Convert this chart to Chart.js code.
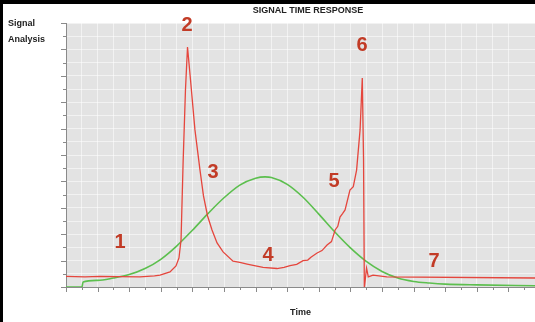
<!DOCTYPE html>
<html>
<head>
<meta charset="utf-8">
<script src="https://cdn.jsdelivr.net/npm/chart.js@4"></script>
<style>
  html, body { margin: 0; padding: 0; background: #000; overflow: hidden; }
  #wrap { position: absolute; left: 3px; top: 4px; width: 532px; height: 318px; background: #fff; }
</style>
</head>
<body>
<div id="wrap"><canvas id="signalChart" width="532" height="318"></canvas></div>
<script>
// red trace: signal
const redX = [0, 1.2, 2.15, 3.3, 4.68, 5.6, 5.95, 6.58, 6.96, 7.15, 7.28, 7.41, 7.56, 7.69, 7.88, 8.16, 8.48, 8.70, 8.96, 9.24, 9.56, 9.94, 10.57, 11.0, 11.46, 12.0, 12.47, 13.35, 13.8, 14.18, 14.6, 15.0, 15.3, 15.5, 15.89, 16.2, 16.52, 16.8, 17.03, 17.2, 17.34, 17.5, 17.66, 17.97, 18.18, 18.39, 18.61, 18.75, 18.83, 18.88, 19.02, 19.13, 19.43, 20.3, 29.68];
const redY = [0.40, 0.38, 0.40, 0.39, 0.38, 0.42, 0.45, 0.57, 0.80, 1.10, 1.78, 4.70, 7.46, 9.09, 7.84, 5.95, 4.43, 3.45, 2.69, 2.16, 1.67, 1.33, 0.98, 0.93, 0.87, 0.80, 0.74, 0.70, 0.74, 0.81, 0.86, 1.00, 1.02, 1.13, 1.29, 1.38, 1.59, 1.72, 2.16, 2.30, 2.65, 2.78, 2.92, 3.67, 3.80, 4.43, 5.95, 7.92, 4.81, -0.04, 0.72, 0.38, 0.45, 0.38, 0.34];
// green trace: reference response
const greenX = [0, 1.01, 1.08, 2, 3, 4, 5, 6, 7, 8, 9, 10, 11, 12, 12.6, 13, 14, 15, 16, 17, 18, 19, 20, 21, 22, 23, 24, 26, 29.68];
const greenY = [0, 0, 0.19, 0.25, 0.34, 0.47, 0.70, 1.05, 1.55, 2.15, 2.79, 3.38, 3.86, 4.12, 4.17, 4.15, 3.89, 3.40, 2.76, 2.09, 1.48, 0.97, 0.59, 0.34, 0.21, 0.15, 0.11, 0.08, 0.05];
// numbered markers
const markText = ['1', '2', '3', '4', '5', '6', '7'];
const markX = [3.42, 7.66, 9.30, 12.78, 16.96, 18.73, 23.29];
const markY = [1.70, 9.89, 4.32, 1.21, 4.01, 9.13, 0.95];

const xMax = 29.68;
const yMax = 10;

const toPoints = (xs, ys) => xs.map((x, i) => ({ x: x, y: ys[i] }));

const decorations = {
    id: 'decorations',
    beforeDraw(chart) {
        const { ctx, chartArea } = chart;
        ctx.save();
        ctx.fillStyle = '#e3e3e3';
        ctx.fillRect(chartArea.left, chartArea.top, chartArea.right - chartArea.left, chartArea.bottom - chartArea.top);
        ctx.restore();
    },
    afterDraw(chart) {
        const { ctx, chartArea, scales } = chart;
        ctx.save();
        // tick marks outside the axes
        ctx.strokeStyle = '#8a8a8a';
        ctx.lineWidth = 1;
        for (let i = 0; i <= Math.floor(xMax); i++) {
            const px = Math.round(scales.x.getPixelForValue(i)) + 0.5;
            const len = i % 2 === 0 ? 5 : 3;
            ctx.beginPath();
            ctx.moveTo(px, chartArea.bottom);
            ctx.lineTo(px, chartArea.bottom + len);
            ctx.stroke();
        }
        for (let j = 0; j <= yMax * 2; j++) {
            const py = Math.round(scales.y.getPixelForValue(j / 2)) + 0.5;
            const len = j % 2 === 0 ? 5 : 3;
            ctx.beginPath();
            ctx.moveTo(chartArea.left, py);
            ctx.lineTo(chartArea.left - len, py);
            ctx.stroke();
        }
        // header texts
        ctx.fillStyle = '#222';
        ctx.font = 'bold 9px "Liberation Sans", Arial, sans-serif';
        ctx.textBaseline = 'middle';
        ctx.textAlign = 'left';
        ctx.fillText('Signal', 5, 20);
        ctx.fillText('Analysis', 5, 36);
        ctx.textAlign = 'center';
        ctx.fillText('SIGNAL TIME RESPONSE', 305, 7);
        // numbered markers
        ctx.fillStyle = '#c23b26';
        ctx.font = 'bold 20px "Liberation Sans", Arial, sans-serif';
        markText.forEach((t, i) => {
            ctx.fillText(t, scales.x.getPixelForValue(markX[i]), scales.y.getPixelForValue(markY[i]));
        });
        ctx.restore();
    }
};

const chart = new Chart(document.getElementById('signalChart').getContext('2d'), {
    type: 'line',
    data: {
        datasets: [
            {
                label: 'Signal',
                data: toPoints(redX, redY),
                borderColor: '#e5463d',
                borderWidth: 1.3,
                pointRadius: 0,
                tension: 0
            },
            {
                label: 'Reference',
                data: toPoints(greenX, greenY),
                borderColor: '#5cbf4e',
                borderWidth: 1.6,
                pointRadius: 0,
                cubicInterpolationMode: 'monotone'
            }
        ]
    },
    options: {
        responsive: false,
        animation: false,
        layout: { padding: { top: 19, right: 0, left: 0, bottom: 0 } },
        plugins: {
            legend: { display: false },
            tooltip: { enabled: false }
        },
        scales: {
            x: {
                type: 'linear',
                min: 0,
                max: xMax,
                ticks: { display: false, stepSize: 1 },
                grid: { color: 'rgba(255,255,255,0.55)', drawTicks: false },
                border: { color: '#8a8a8a' },
                title: {
                    display: true,
                    text: 'Time',
                    color: '#222',
                    font: { family: '"Liberation Sans", Arial, sans-serif', size: 9, weight: 'bold' },
                    padding: { top: 0, bottom: 4 }
                },
                afterFit(scale) { scale.height = 35; }
            },
            y: {
                min: 0,
                max: yMax,
                ticks: { display: false, stepSize: 0.5 },
                grid: { color: 'rgba(255,255,255,0.55)', drawTicks: false },
                border: { color: '#8a8a8a' },
                afterFit(scale) { scale.width = 63; }
            }
        }
    },
    plugins: [decorations]
});
</script>
</body>
</html>
